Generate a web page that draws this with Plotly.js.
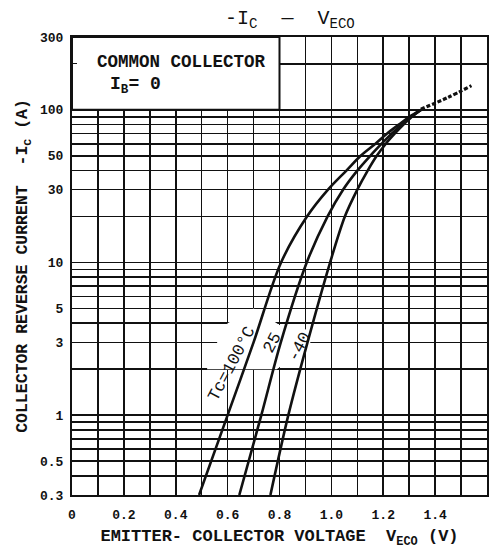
<!DOCTYPE html>
<html><head><meta charset="utf-8">
<script src="https://cdn.plot.ly/plotly-3.0.1.min.js"></script>
<style>html,body{margin:0;padding:0;background:#fff}#chart{width:493px;height:551px}</style>
</head><body><div id="chart"></div>
<script>
// Collector reverse current (A) sample levels shared by the three curves
const currentA = [0.3, 1, 3, 10, 20, 30, 40, 50, 60, 70, 80, 90, 100];
// Emitter-collector voltage (V) at those currents
const vTc100 = [0.49, 0.60, 0.70, 0.806, 0.906, 0.987, 1.058, 1.113, 1.17, 1.215, 1.26, 1.3, 1.345];
const vTc25  = [0.645, 0.73, 0.805, 0.905, 0.985, 1.045, 1.10, 1.15, 1.194, 1.233, 1.272, 1.308, 1.345];
const vTcM40 = [0.765, 0.834, 0.908, 0.995, 1.052, 1.10, 1.14, 1.175, 1.21, 1.245, 1.278, 1.31, 1.345];
// dotted common continuation
const extV = [1.345, 1.447, 1.54];
const extI = [101, 120, 144];

const xTickVals = [0, 0.2, 0.4, 0.6, 0.8, 1.0, 1.2, 1.4, 1.6];
const xTickText = ["0", "0.2", "0.4", "0.6", "0.8", "1.0", "1.2", "1.4", "1.6"];
const yTickVals = [0.3, 0.5, 1, 3, 5, 10, 30, 50, 100, 300];
const yTickText = ["0.3", "0.5", "1", "3", "5", "10", "30", "50", "100", "300"];
const yMinorVals = [0.4, 0.6, 0.7, 0.8, 0.9, 2, 4, 6, 7, 8, 9, 20, 40, 60, 70, 80, 90, 200];

const FONT = "Liberation Mono, DejaVu Sans Mono, monospace";
const ink = "#111";

const lineStyle = {color: ink, width: 2.6, shape: "spline", smoothing: 0.9};
const traces = [
  {x: vTc100, y: currentA, mode: "lines", line: lineStyle, name: "Tc=100°C"},
  {x: vTc25, y: currentA, mode: "lines", line: lineStyle, name: "25"},
  {x: vTcM40, y: currentA, mode: "lines", line: lineStyle, name: "-40"},
  {x: extV, y: extI, mode: "lines", line: {color: ink, width: 3.2, dash: "4px,2px", shape: "spline"}, name: "ext"}
];

const layout = {
  width: 493, height: 551,
  margin: {l: 72, r: 6, t: 37, b: 56},
  paper_bgcolor: "#fff", plot_bgcolor: "#fff",
  showlegend: false,
  font: {family: FONT, color: ink, size: 13},
  title: {text: "-I<sub>C</sub>  \u2014  V<sub>ECO</sub>", x: 0.588, xanchor: "center", xref: "container",
          y: 0.97, yanchor: "middle", font: {family: FONT, size: 20, color: ink}},
  xaxis: {
    range: [0, 1.6], tickmode: "array", tickvals: xTickVals, ticktext: xTickText,
    showgrid: true, gridcolor: ink, gridwidth: 1.6, zeroline: false,
    minor: {dtick: 0.1, tick0: 0, showgrid: true, gridcolor: ink, gridwidth: 1.6},
    showline: true, mirror: true, linecolor: ink, linewidth: 2, ticks: "",
    tickfont: {family: FONT, size: 13, color: ink, weight: "bold"}, ticklabelstandoff: 6,
    title: {text: "EMITTER- COLLECTOR VOLTAGE  V<sub>ECO</sub> (V)", standoff: 8,
            font: {family: FONT, size: 17, color: ink, weight: "bold"}}
  },
  yaxis: {
    type: "log", range: [Math.log10(0.3), Math.log10(300)],
    tickmode: "array", tickvals: yTickVals, ticktext: yTickText,
    showgrid: true, gridcolor: ink, gridwidth: 1.6, zeroline: false,
    minor: {tickmode: "array", tickvals: yMinorVals, showgrid: true, gridcolor: ink, gridwidth: 1.6,
            ticks: "inside", ticklen: 5, tickcolor: ink},
    showline: true, mirror: true, linecolor: ink, linewidth: 2, ticks: "",
    tickfont: {family: FONT, size: 13, color: ink, weight: "bold"}, ticklabelstandoff: 4,
    title: {text: "COLLECTOR REVERSE CURRENT  -I<sub>C</sub> (A)", standoff: 8,
            font: {family: FONT, size: 16.5, color: ink, weight: "bold"}}
  },
  shapes: [
    {type: "rect", xref: "x", yref: "y", x0: 0, x1: 0.8, y0: 100, y1: 300,
     fillcolor: "#fff", line: {color: ink, width: 2}, layer: "between"},
    {type: "path", xref: "x", yref: "y",
     path: "M0.52,2 L0.56,3 L0.6,4 L0.7,5 L0.8,3.9 L0.92,3.6 L0.92,3 L0.79,2 Z",
     fillcolor: "#fff", line: {width: 0}, layer: "between"}
  ],
  annotations: [
    {xref: "x", yref: "y", x: 0.09, y: 2.314, xanchor: "left", yanchor: "middle", showarrow: false,
     text: "COMMON COLLECTOR", font: {family: FONT, size: 17.5, color: ink, weight: "bold"}},
    {xref: "x", yref: "y", x: 0.14, y: 2.157, xanchor: "left", yanchor: "middle", showarrow: false,
     text: "I<sub>B</sub>= 0", font: {family: FONT, size: 18, color: ink, weight: "bold"}},
    {xref: "x", yref: "y", x: 0.618, y: 0.338, showarrow: false, textangle: -62,
     text: "Tc=100°C", font: {family: FONT, size: 17, color: ink}},
    {xref: "x", yref: "y", x: 0.773, y: 0.468, showarrow: false, textangle: -62,
     text: "25", font: {family: FONT, size: 17, color: ink}},
    {xref: "x", yref: "y", x: 0.876, y: 0.446, showarrow: false, textangle: -62,
     text: "-40", font: {family: FONT, size: 17, color: ink}}
  ]
};

Plotly.newPlot("chart", traces, layout, {displayModeBar: false, staticPlot: true});
</script>
</body></html>
